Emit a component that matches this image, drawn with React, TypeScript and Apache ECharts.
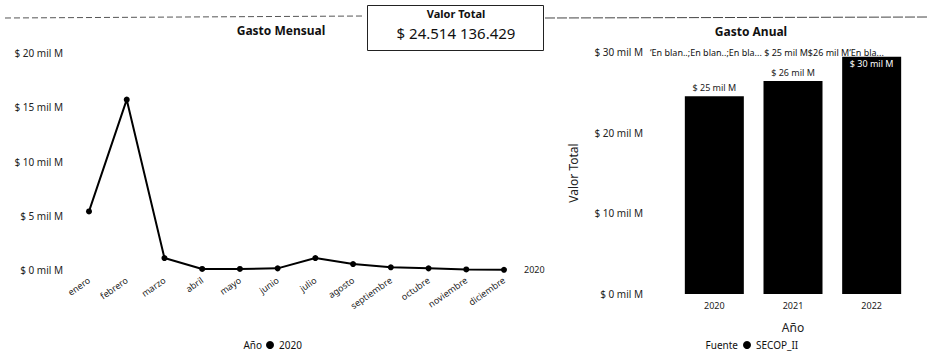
import { useEffect, useRef } from "react";
import * as echarts from "echarts";

const months = ["enero", "febrero", "marzo", "abril", "mayo", "junio", "julio", "agosto", "septiembre", "octubre", "noviembre", "diciembre"];
const monthlyValues = [5.4, 15.7, 1.1, 0.1, 0.1, 0.15, 1.1, 0.55, 0.25, 0.15, 0.05, 0.02];
const years = ["2020", "2021", "2022"];
const annualValues = [24.5, 26.4, 29.4];
const annualLabels = ["$ 25 mil M", "$ 26 mil M", "$ 30 mil M"];
const totalText = "$ 24.514 136.429";
const clutterText = "\u2018En blan..;En blan..;En bla... $ 25 mil M$26 mil M\u2018En bla...";

const FONT = "Noto Sans";

export default function App() {
  const ref = useRef<HTMLDivElement>(null);
  useEffect(() => {
    if (!ref.current) return;
    const chart = echarts.init(ref.current, undefined, { renderer: "svg" });
    const fmt = (v: number) => `$ ${v} mil M`;
    chart.setOption({
      animation: false,
      textStyle: { fontFamily: FONT },
      grid: [
        { left: 89, top: 53, width: 415, height: 217 },
        { left: 675, top: 52, width: 236, height: 242 },
      ],
      xAxis: [
        {
          gridIndex: 0, type: "category", data: months, boundaryGap: false,
          axisLine: { show: false }, axisTick: { show: false },
          axisLabel: { rotate: 35, fontSize: 9, color: "#222", margin: 9, interval: 0 },
        },
        {
          gridIndex: 1, type: "category", data: years,
          axisLine: { show: false }, axisTick: { show: false },
          axisLabel: { fontSize: 9, color: "#222", margin: 7 },
          name: "Año", nameLocation: "middle", nameGap: 27,
          nameTextStyle: { fontSize: 12, color: "#222" },
        },
      ],
      yAxis: [
        {
          gridIndex: 0, type: "value", min: 0, max: 20, interval: 5,
          splitLine: { show: false }, axisLine: { show: false }, axisTick: { show: false },
          axisLabel: { formatter: fmt, fontSize: 10, color: "#222", margin: 26 },
        },
        {
          gridIndex: 1, type: "value", min: 0, max: 30, interval: 10,
          splitLine: { show: false }, axisLine: { show: false }, axisTick: { show: false },
          axisLabel: { formatter: fmt, fontSize: 10, color: "#222", margin: 32 },
          name: "Valor Total", nameLocation: "middle", nameGap: 96,
          nameTextStyle: { fontSize: 12, color: "#222" },
        },
      ],
      legend: [
        {
          left: 266, top: 340, data: ["2020"], icon: "circle", itemWidth: 8, itemHeight: 8,
          itemGap: 4, padding: 0, textStyle: { fontSize: 10, color: "#111" },
        },
        {
          left: 743, top: 340, data: ["SECOP_II"], icon: "circle", itemWidth: 8, itemHeight: 8,
          padding: 0, textStyle: { fontSize: 10, color: "#111" },
        },
      ],
      series: [
        {
          name: "2020", type: "line", xAxisIndex: 0, yAxisIndex: 0, data: monthlyValues,
          symbol: "circle", symbolSize: 6, itemStyle: { color: "#000" },
          lineStyle: { color: "#000", width: 2 },
          endLabel: { show: true, formatter: "2020", fontSize: 9, color: "#222", distance: 20 },
        },
        {
          name: "SECOP_II", type: "bar", xAxisIndex: 1, yAxisIndex: 1, barWidth: "75%",
          itemStyle: { color: "#000" },
          data: annualValues.map((v, i) =>
            i === annualValues.length - 1
              ? { value: v, label: { position: "insideTop", color: "#fff", distance: 2 } }
              : { value: v }
          ),
          label: {
            show: true, position: "top", fontSize: 9, color: "#222", distance: 4,
            formatter: (p: any) => annualLabels[p.dataIndex],
          },
        },
      ],
      graphic: [
        { type: "line", shape: { x1: 5, y1: 18, x2: 365, y2: 16 }, style: { stroke: "#555", lineWidth: 1, lineDash: [6, 3] } },
        { type: "line", shape: { x1: 545, y1: 18, x2: 929, y2: 17 }, style: { stroke: "#444", lineWidth: 1, lineDash: [10, 2] } },
        { type: "rect", shape: { x: 367.5, y: 5.5, width: 176, height: 45 }, style: { fill: "#fff", stroke: "#222", lineWidth: 1 } },
        { type: "text", x: 456, y: 13, style: { text: "Valor Total", font: `bold 11px "${FONT}"`, fill: "#111", align: "center", verticalAlign: "middle" } },
        { type: "text", x: 456, y: 33, style: { text: totalText, font: `15px "${FONT}"`, fill: "#111", align: "center", verticalAlign: "middle" } },
        { type: "text", x: 281, y: 30, style: { text: "Gasto Mensual", font: `bold 12px "${FONT}"`, fill: "#111", align: "center", verticalAlign: "middle" } },
        { type: "text", x: 751, y: 31, style: { text: "Gasto Anual", font: `bold 12px "${FONT}"`, fill: "#111", align: "center", verticalAlign: "middle" } },
        { type: "text", x: 650, y: 52, style: { text: clutterText, font: `9px "${FONT}"`, fill: "#111", align: "left", verticalAlign: "middle" } },
        { type: "text", x: 262, y: 345, style: { text: "Año", font: `10px "${FONT}"`, fill: "#111", align: "right", verticalAlign: "middle" } },
        { type: "text", x: 738, y: 345, style: { text: "Fuente", font: `10px "${FONT}"`, fill: "#111", align: "right", verticalAlign: "middle" } },
      ],
    });
    return () => chart.dispose();
  }, []);
  return (
    <div
      ref={ref}
      style={{ position: "fixed", left: 0, top: 0, width: 929, height: 356, background: "#fff" }}
    />
  );
}
